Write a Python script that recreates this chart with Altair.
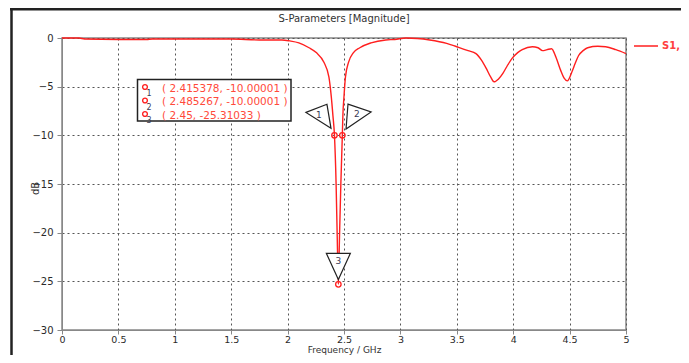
import altair as alt
import pandas as pd

# ---- data ----
freq = [0.0, 0.15, 0.2, 0.5, 0.75, 0.8, 1.0, 1.2, 1.5, 1.75, 1.95, 2.02, 2.1, 2.19, 2.254, 2.322,
        2.366, 2.387, 2.402, 2.415378, 2.43, 2.44, 2.45, 2.46, 2.472, 2.485267, 2.49, 2.50,
        2.513, 2.54, 2.584, 2.64, 2.74, 2.87, 2.95, 3.05, 3.15, 3.26, 3.41, 3.5, 3.6, 3.67,
        3.72, 3.76, 3.8, 3.83, 3.87, 3.91, 3.95, 3.99, 4.04, 4.08, 4.17, 4.22, 4.26, 4.3, 4.34,
        4.38, 4.42, 4.45, 4.48, 4.52, 4.55, 4.58, 4.62, 4.66, 4.75, 4.82, 4.91, 5.0]
s11 = [0.0, 0.0, -0.1, -0.15, -0.15, -0.1, -0.1, -0.1, -0.1, -0.2, -0.2, -0.3, -0.5, -1.0, -1.5,
       -2.5, -4.0, -6.0, -8.0, -10.00001, -15.0, -20.5, -25.31033, -20.5, -15.0, -10.00001, -8.0,
       -6.0, -4.0, -2.5, -1.5, -1.0, -0.5, -0.2, -0.15, 0.0, -0.05, -0.2, -0.55, -0.9, -1.3, -1.6,
       -2.3, -3.1, -4.0, -4.5, -4.2, -3.6, -2.8, -2.1, -1.5, -1.2, -0.9, -1.0, -1.3, -1.2, -1.1,
       -2.0, -3.3, -4.1, -4.4, -3.5, -2.6, -1.8, -1.3, -1.0, -0.85, -0.9, -1.2, -1.6]

marker_id = ["1", "2", "3"]
marker_f = [2.415378, 2.485267, 2.45]
marker_db = [-10.00001, -10.00001, -25.31033]
marker_label = ["( 2.415378, -10.00001 )", "( 2.485267, -10.00001 )", "( 2.45, -25.31033 )"]

x_ticks = [0, 0.5, 1, 1.5, 2, 2.5, 3, 3.5, 4, 4.5, 5]
y_ticks = [0, -5, -10, -15, -20, -25, -30]

title_text = "S-Parameters [Magnitude]"
x_title = "Frequency / GHz"
y_title = "dB"
legend_text = "S1,"

curve = pd.DataFrame({"f": freq, "db": s11})
markers = pd.DataFrame({"id": marker_id, "f": marker_f, "db": marker_db, "label": marker_label})
one = pd.DataFrame({"k": [0]})

FONT = "DejaVu Sans"
RED = "#ff1f1f"
W, H = 564, 292

xs = alt.Scale(domain=[0, 5], nice=False, zero=False)
ys = alt.Scale(domain=[-30, 0], nice=False, zero=False)

X = alt.X("f:Q", scale=xs, axis=alt.Axis(
    values=x_ticks, format="~g", title=x_title, titleX=W / 2, titleY=19.5,
    titleBaseline="middle", titleFont=FONT, titleFontSize=9, titleFontWeight="normal",
    titleColor="#333", labelFont=FONT, labelFontSize=9.5, labelColor="#2a2a2a",
    labelPadding=0, tickSize=4, tickColor="#888", domainColor="#888",
    grid=True, gridColor="#555", gridDash=[2, 3], gridWidth=1, labelFlush=False))
Y = alt.Y("db:Q", scale=ys, axis=alt.Axis(
    values=y_ticks, title=y_title, titleX=-27, titleY=H / 2 + 4, titleAngle=270,
    titleAlign="center", titleBaseline="middle", titleFont=FONT, titleFontSize=10,
    titleFontWeight="normal", titleColor="#333", labelFont=FONT, labelFontSize=10,
    labelColor="#2a2a2a", labelPadding=4, tickSize=5, tickColor="#888", domainColor="#888",
    grid=True, gridColor="#555", gridDash=[2, 3], gridWidth=1, labelFlush=False))

line = alt.Chart(curve).mark_line(color=RED, strokeWidth=1.4, interpolate="monotone").encode(
    x=X, y=Y, order="f:Q")

# triangle shapes per marker (custom path, offset from marker point, label offset)
tri = {
    "1": ("M -1.02 -0.17 L 0.38 -0.71 L 0.65 0.89 Z", -13.2, -20.4, -15.5, -20.5),
    "2": ("M -0.47 -0.73 L 1.07 -0.2 L -0.6 0.93 Z", 12.7, -20.3, 14.5, -21.5),
    "3": ("M -0.8 -0.58 L 0.8 -0.58 L 0 1.16 Z", 0, -22.3, 0, -23.5),
}
layers = [line]
for mid, (path, dx, dy, tx, ty) in tri.items():
    base = alt.Chart(markers).transform_filter(alt.datum.id == mid)
    layers.append(base.mark_point(shape=path, size=900, filled=True, fill="white",
                                  stroke="#222", strokeWidth=1.2, opacity=1,
                                  xOffset=dx, yOffset=dy).encode(x="f:Q", y="db:Q"))
    layers.append(base.mark_text(font=FONT, fontSize=9, color="#3a3a55",
                                 xOffset=tx, yOffset=ty, baseline="middle").encode(
        x="f:Q", y="db:Q", text="id:N"))

pts = alt.Chart(markers).mark_point(shape="circle", size=30, filled=False, color=RED,
                                    strokeWidth=1.3, opacity=1).encode(x="f:Q", y="db:Q")
layers.append(pts)

# marker info box
box = alt.Chart(one).mark_rect(fill="white", stroke="#222", strokeWidth=1.5).encode(
    x=alt.value(75.5), x2=alt.value(229), y=alt.value(41.5), y2=alt.value(83))
layers.append(box)
row_y = [50.5, 64, 77.5]
for i, mid in enumerate(marker_id):
    base = alt.Chart(markers).transform_filter(alt.datum.id == mid)
    layers.append(base.mark_point(shape="circle", size=22, filled=False, color=RED,
                                  strokeWidth=1.4, opacity=1).encode(
        x=alt.value(83), y=alt.value(row_y[i] - 1.5)))
    layers.append(base.mark_text(font=FONT, fontSize=8, color="#3a3a55", align="left",
                                 baseline="middle").encode(
        x=alt.value(84.5), y=alt.value(row_y[i] + 5.5), text="id:N"))
    layers.append(base.mark_text(font=FONT, fontSize=10.5, color="#ff4a3a", align="left",
                                 baseline="middle").encode(
        x=alt.value(100), y=alt.value(row_y[i]), text="label:N"))

# title, legend, outer frame
layers.append(alt.Chart(one).mark_text(text=title_text, font=FONT, fontSize=10, color="#333",
                                       baseline="middle").encode(
    x=alt.value(W / 2), y=alt.value(-19)))
layers.append(alt.Chart(one).mark_rule(color=RED, strokeWidth=1.5).encode(
    x=alt.value(572), x2=alt.value(596), y=alt.value(8)))
layers.append(alt.Chart(one).mark_text(text=legend_text, font=FONT, fontSize=10,
                                       fontWeight="bold", color="#ff4040", align="left",
                                       baseline="middle").encode(
    x=alt.value(600), y=alt.value(8)))
layers.append(alt.Chart(one).mark_rule(color="#222", strokeWidth=2.5).encode(
    x=alt.value(-50.5), y=alt.value(-30), y2=alt.value(330)))
layers.append(alt.Chart(one).mark_rule(color="#222", strokeWidth=2.5).encode(
    x=alt.value(-52), x2=alt.value(640), y=alt.value(-28.8)))

chart = alt.layer(*layers).properties(
    width=W, height=H,
    autosize=alt.AutoSizeParams(type="none"),
    padding={"left": 54, "top": 30, "right": 55, "bottom": 25},
    background="white",
).configure_view(stroke="#888", strokeWidth=1.5)

chart.save("out.html", embed_options={"renderer": "svg", "actions": False})
